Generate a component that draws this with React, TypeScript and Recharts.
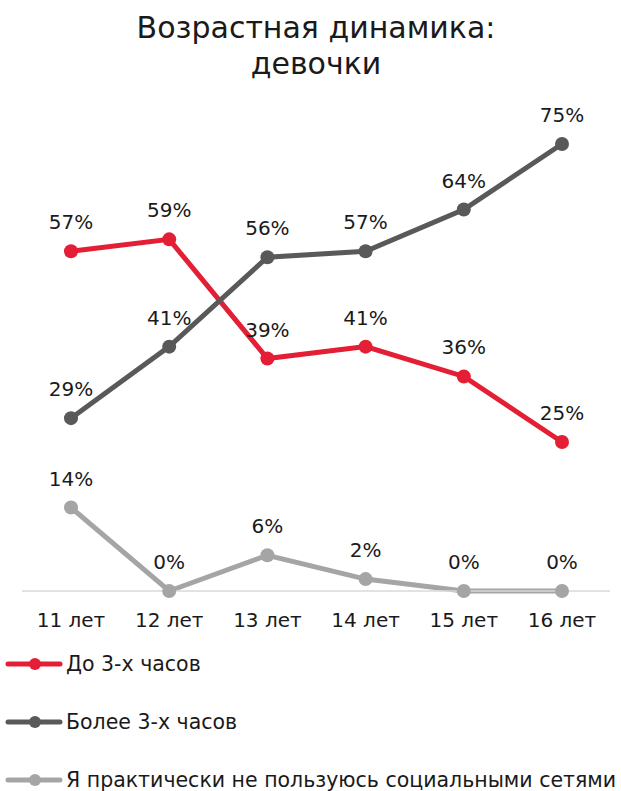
import React from 'react';
import { LineChart, Line, XAxis, YAxis, LabelList } from 'recharts';

const ages = ['11 лет', '12 лет', '13 лет', '14 лет', '15 лет', '16 лет'];
const upTo3h = [57, 59, 39, 41, 36, 25];
const over3h = [29, 41, 56, 57, 64, 75];
const barelyUse = [14, 0, 6, 2, 0, 0];

const seriesNames = ['До 3-х часов', 'Более 3-х часов', 'Я практически не пользуюсь социальными сетями'];
const colors = ['#E41E34', '#595959', '#A5A5A5'];

const FONT = '"DejaVu Sans", sans-serif';

const data = ages.map((age, i) => ({
  age,
  a: upTo3h[i],
  b: over3h[i],
  c: barelyUse[i],
}));

const PctLabel = (props: any) => {
  const { x, y, value } = props;
  return (
    <text x={x} y={y - 22} textAnchor="middle" fontSize={20} fill="#1a1a1a" fontFamily={FONT}>
      {value}%
    </text>
  );
};

const LegendBlock = () => (
  <div style={{ position: 'absolute', left: 0, top: 635, fontFamily: FONT }}>
    {seriesNames.map((name, i) => (
      <div key={name} style={{ display: 'flex', alignItems: 'center', height: 58 }}>
        <svg width={66} height={14} style={{ display: 'block' }}>
          <line x1={8} y1={7} x2={60} y2={7} stroke={colors[i]} strokeWidth={5} strokeLinecap="round" />
          <circle cx={35} cy={7} r={6} fill={colors[i]} />
        </svg>
        <span style={{ fontSize: 20.5, color: '#1a1a1a', whiteSpace: 'nowrap' }}>{name}</span>
      </div>
    ))}
  </div>
);

export default function App() {
  return (
    <div style={{ position: 'absolute', left: 0, top: 0, width: 621, height: 791, background: '#fff', overflow: 'hidden' }}>
      <div
        style={{
          position: 'absolute',
          top: 10,
          left: 0,
          width: 632,
          textAlign: 'center',
          fontFamily: FONT,
          fontSize: 30,
          lineHeight: '36px',
          color: '#1a1a1a',
        }}
      >
        Возрастная динамика:
        <br />
        девочки
      </div>
      <div style={{ position: 'absolute', left: 0, top: 0 }}>
        <LineChart width={621} height={791} data={data} margin={{ top: 144, right: 11, bottom: 170, left: 22 }}>
          <XAxis
            dataKey="age"
            padding={{ left: 49, right: 48 }}
            axisLine={{ stroke: '#D9D9D9', strokeWidth: 1.5 }}
            tickLine={false}
            tickMargin={16}
            tick={{ fontSize: 20, fill: '#1a1a1a', fontFamily: FONT }}
            interval={0}
          />
          <YAxis hide domain={[0, 75]} />
          <Line dataKey="a" name={seriesNames[0]} stroke={colors[0]} strokeWidth={5} dot={{ r: 7, fill: colors[0], stroke: 'none' }} isAnimationActive={false}>
            <LabelList dataKey="a" content={<PctLabel />} />
          </Line>
          <Line dataKey="b" name={seriesNames[1]} stroke={colors[1]} strokeWidth={5} dot={{ r: 7, fill: colors[1], stroke: 'none' }} isAnimationActive={false}>
            <LabelList dataKey="b" content={<PctLabel />} />
          </Line>
          <Line dataKey="c" name={seriesNames[2]} stroke={colors[2]} strokeWidth={5} dot={{ r: 7, fill: colors[2], stroke: 'none' }} isAnimationActive={false}>
            <LabelList dataKey="c" content={<PctLabel />} />
          </Line>
        </LineChart>
      </div>
      <LegendBlock />
    </div>
  );
}
